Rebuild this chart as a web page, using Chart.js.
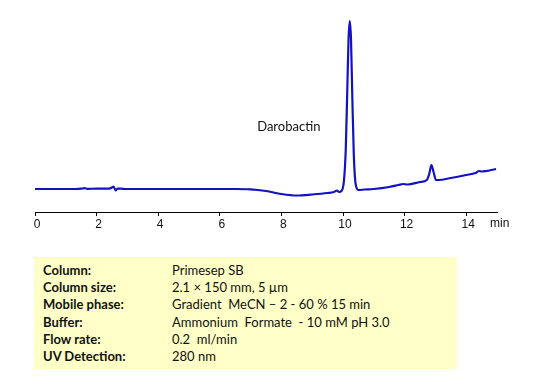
<!DOCTYPE html>
<html><head><meta charset="utf-8">
<script src="https://cdn.jsdelivr.net/npm/chart.js@4"></script>
<style>
html,body{margin:0;padding:0;background:#fff;width:537px;height:390px;overflow:hidden;}
#wrap{position:absolute;left:0;top:0;width:537px;height:240px;}
#box{position:absolute;left:34px;top:257px;width:423px;height:112px;background:#FFFFC8;font-family:Lato,"Open Sans",sans-serif;font-size:13px;color:#111;box-sizing:border-box;padding-top:5px;}
.row{position:relative;height:17.2px;line-height:17.2px;white-space:pre;}
.lab{position:absolute;left:9px;font-weight:bold;}
.val{position:absolute;left:138px;}
</style></head>
<body>
<div id="wrap"><canvas id="c" width="537" height="240"></canvas></div>
<div id="box"></div>
<script>
const times = [0,1.3,1.5,1.6,1.7,2.0,2.4,2.5,2.55,2.62,2.68,2.8,3.0,5.0,6.5,7.0,7.5,8.0,8.5,9.0,9.5,9.7,9.8,9.87,9.95,10.03,10.09,10.14,10.18,10.22,10.26,10.30,10.35,10.41,10.5,10.7,11.0,11.5,11.8,11.95,12.1,12.5,12.72,12.8,12.87,12.94,13.02,13.1,13.5,14.0,14.3,14.42,14.5,14.97];
const signal = [0,0,0.3,0.8,0.2,0.3,0.3,1.5,2.5,-1.5,0.5,0.3,0,0,0,-0.3,-2,-5,-6.5,-5.5,-4,-3,-1.5,-3,-2,8,40,100,150,168,150,95,35,5,-1,-0.5,0,2,4,5,4.5,7,9,15,24,17,9,9,11,14,16,18,17.5,20];
const xTicks = [0,2,4,6,8,10,12,14];
const peakLabel = "Darobactin";
const axisUnit = "min";
const infoLabels = ["Column:","Column size:","Mobile phase:","Buffer:","Flow rate:","UV Detection:"];
const infoValues = ["Primesep SB","2.1 × 150 mm, 5 µm","Gradient  MeCN – 2 - 60 % 15 min","Ammonium  Formate  - 10 mM pH 3.0","0.2  ml/min","280 nm"];

const box = document.getElementById('box');
infoLabels.forEach((l,i)=>{
  const r=document.createElement('div');r.className='row';
  r.innerHTML='<span class="lab"></span><span class="val"></span>';
  r.children[0].textContent=l;r.children[1].textContent=infoValues[i];
  box.appendChild(r);
});

const textPlugin = {
  id:'texts',
  afterDraw(chart){
    const ctx=chart.ctx, xs=chart.scales.x, ys=chart.scales.y;
    ctx.save();
    ctx.fillStyle='#111';
    ctx.font='13px Lato, "Open Sans", sans-serif';
    ctx.textAlign='center';ctx.textBaseline='middle';
    ctx.fillText(peakLabel, xs.getPixelForValue(8.24), ys.getPixelForValue(62));
    ctx.font='12px "Liberation Sans", Arial, sans-serif';
    ctx.textAlign='left';ctx.textBaseline='alphabetic';
    ctx.fillText(axisUnit, xs.right-7, chart.chartArea.bottom+15);
    ctx.restore();
  }
};

new Chart(document.getElementById('c'),{
  type:'line',
  data:{datasets:[{data:times.map((t,i)=>({x:t,y:signal[i]})),borderColor:'#1212C4',borderWidth:2.2,pointRadius:0,cubicInterpolationMode:'monotone',fill:false}]},
  options:{
    responsive:false,animation:false,
    layout:{padding:{left:35,right:40,top:10,bottom:0}},
    plugins:{legend:{display:false},tooltip:{enabled:false}},
    scales:{
      x:{type:'linear',min:0,max:15,
        afterBuildTicks:s=>{s.ticks=xTicks.map(v=>({value:v}));},
        afterFit:s=>{s.height=28;},
        border:{display:true,color:'#000',width:1},
        grid:{drawOnChartArea:false,drawTicks:true,tickLength:4,color:'#000'},
        ticks:{color:'#111',padding:1,labelOffset:2,maxRotation:0,autoSkip:false,font:{family:'"Liberation Sans", Arial, sans-serif',size:12}}
      },
      y:{display:false,min:-23,max:179}
    }
  },
  plugins:[textPlugin]
});
</script>
</body></html>
